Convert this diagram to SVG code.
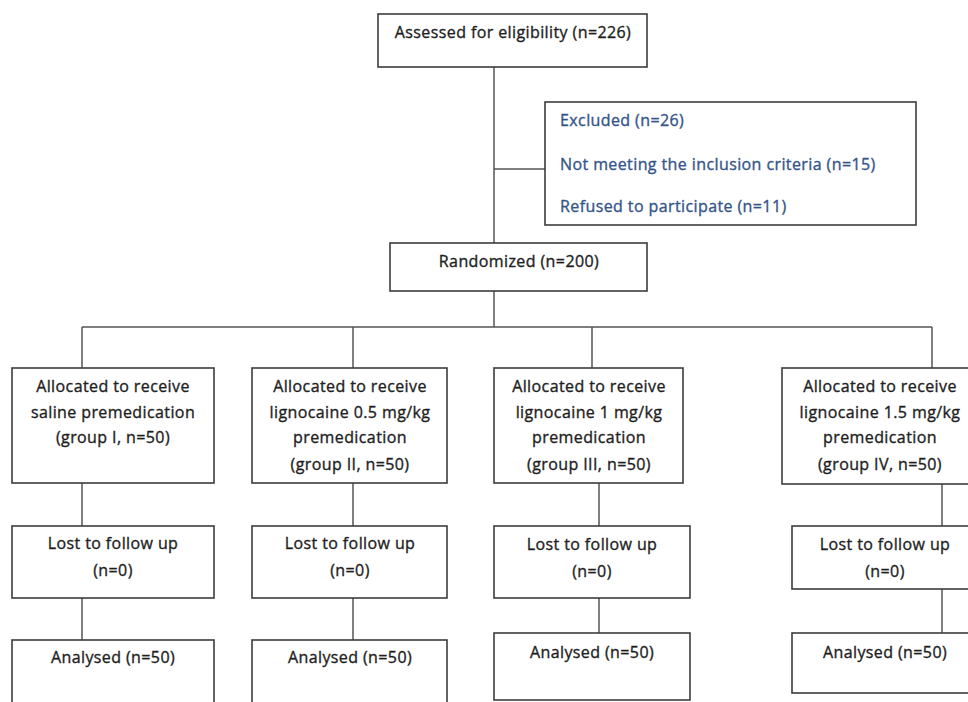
<svg xmlns="http://www.w3.org/2000/svg" width="968" height="702" viewBox="0 0 968 702">
<style>
.box{fill:#fff;stroke:#3c3c3c;stroke-width:1.6}
.ln{fill:none;stroke:#555;stroke-width:1.5}
text{font-family:"Open Sans","Noto Sans","Liberation Sans",sans-serif;font-size:16px;letter-spacing:0.4px;fill:#1e1e1e;stroke:#1e1e1e;stroke-width:0.35}
.c{text-anchor:middle}
.b{fill:#35558a;stroke:#35558a}
</style>
<rect width="968" height="702" fill="#fff"/>
<g id="connectors">
<path class="ln" d="M494 67V243M494 169H545M494 291V327M82 327H932M82 327V368M353 327V368M592 327V368M932 327V368"/>
<path class="ln" d="M82 483V526M82 598V640M353 483V526M353 598V640M599 483V526M599 598V633M942 484V526M942 589V633"/>
</g>
<g id="assessed"><rect class="box" x="378" y="14" width="269" height="53"/><text class="c" x="513" y="38">Assessed for eligibility (n=226)</text></g>
<g id="excluded"><rect class="box" x="545" y="102" width="371" height="123"/>
<text class="b" x="560" y="126">Excluded (n=26)</text>
<text class="b" x="560" y="170">Not meeting the inclusion criteria (n=15)</text>
<text class="b" x="560" y="212">Refused to participate (n=11)</text></g>
<g id="randomized"><rect class="box" x="390" y="243" width="257" height="48"/><text class="c" x="519" y="267">Randomized (n=200)</text></g>
<g id="alloc1"><rect class="box" x="12" y="368" width="202" height="115"/>
<text class="c" x="113" y="392">Allocated to receive</text><text class="c" x="113" y="418">saline premedication</text><text class="c" x="113" y="443">(group I, n=50)</text></g>
<g id="alloc2"><rect class="box" x="252" y="368" width="195" height="115"/>
<text class="c" x="350" y="392">Allocated to receive</text><text class="c" x="350" y="418">lignocaine 0.5 mg/kg</text><text class="c" x="350" y="443">premedication</text><text class="c" x="350" y="470">(group II, n=50)</text></g>
<g id="alloc3"><rect class="box" x="494" y="368" width="189" height="115"/>
<text class="c" x="589" y="392">Allocated to receive</text><text class="c" x="589" y="418">lignocaine 1 mg/kg</text><text class="c" x="589" y="443">premedication</text><text class="c" x="589" y="470">(group III, n=50)</text></g>
<g id="alloc4"><rect class="box" x="782" y="368" width="196" height="116"/>
<text class="c" x="880" y="392">Allocated to receive</text><text class="c" x="880" y="418">lignocaine 1.5 mg/kg</text><text class="c" x="880" y="443">premedication</text><text class="c" x="880" y="470">(group IV, n=50)</text></g>
<g id="lost1"><rect class="box" x="12" y="526" width="202" height="72"/><text class="c" x="113" y="549">Lost to follow up</text><text class="c" x="113" y="576">(n=0)</text></g>
<g id="lost2"><rect class="box" x="252" y="526" width="195" height="72"/><text class="c" x="350" y="549">Lost to follow up</text><text class="c" x="350" y="576">(n=0)</text></g>
<g id="lost3"><rect class="box" x="494" y="526" width="196" height="72"/><text class="c" x="592" y="550">Lost to follow up</text><text class="c" x="592" y="577">(n=0)</text></g>
<g id="lost4"><rect class="box" x="792" y="526" width="187" height="63"/><text class="c" x="885" y="550">Lost to follow up</text><text class="c" x="885" y="577">(n=0)</text></g>
<g id="analysed1"><rect class="box" x="12" y="640" width="202" height="70"/><text class="c" x="113" y="663">Analysed (n=50)</text></g>
<g id="analysed2"><rect class="box" x="252" y="640" width="195" height="70"/><text class="c" x="350" y="663">Analysed (n=50)</text></g>
<g id="analysed3"><rect class="box" x="494" y="633" width="196" height="67"/><text class="c" x="592" y="658">Analysed (n=50)</text></g>
<g id="analysed4"><rect class="box" x="792" y="633" width="187" height="60"/><text class="c" x="885" y="658">Analysed (n=50)</text></g>
</svg>
